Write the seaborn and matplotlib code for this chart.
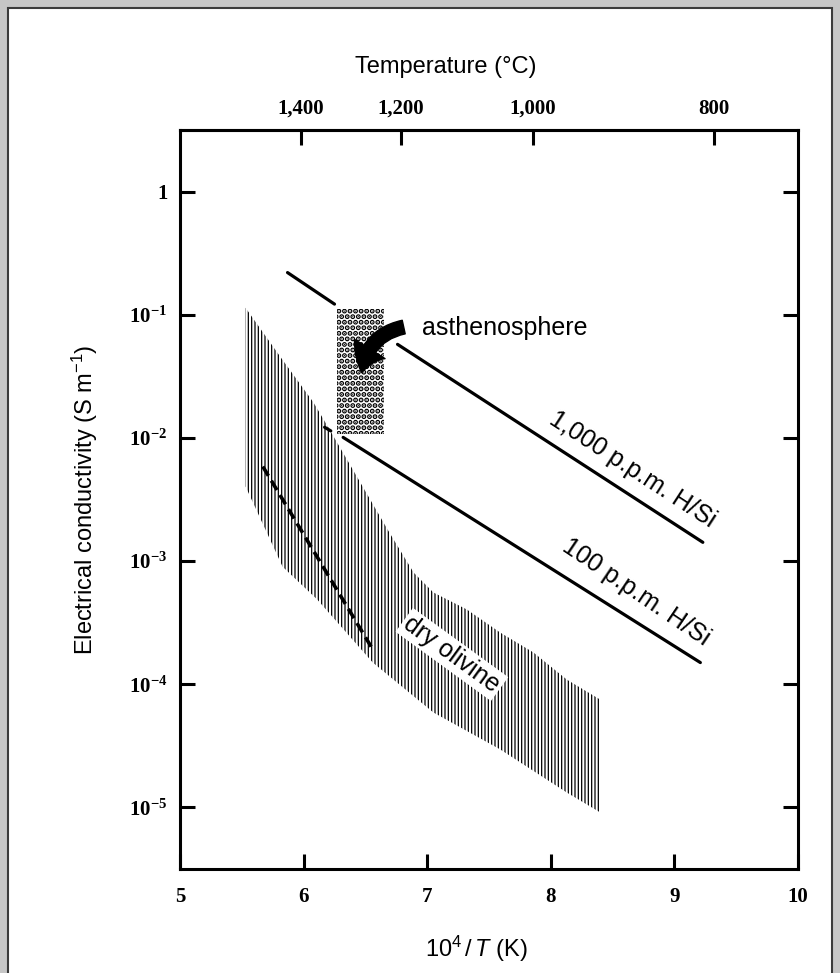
# Electrical conductivity of olivine vs inverse temperature
import numpy as np
import pandas as pd
import matplotlib
matplotlib.use('Agg')
import matplotlib.pyplot as plt
import seaborn as sns
from matplotlib.patches import Rectangle

# --- data (x = 10^4/T in K, y = conductivity S/m) ---
h1000_x = [5.87, 6.25, 6.76, 9.23]
h1000_y = [0.220, 0.122, 0.0575, 1.42e-3]
h1000_seg = [0, 0, 1, 1]

h100_x = [6.17, 6.22, 6.32, 9.21]
h100_y = [0.0122, 0.0114, 0.0101, 1.50e-4]
h100_seg = [0, 0, 1, 1]

dry_x = [5.67, 6.55]
dry_y = [5.86e-3, 1.99e-4]

band_up_x = [5.53, 5.81, 6.08, 6.21, 6.68, 6.89, 7.05, 7.32, 7.59, 7.86, 8.13, 8.40]
band_up_y = [0.114, 0.0458, 0.0194, 0.0117, 1.80e-3, 8.07e-4, 5.56e-4, 4.05e-4,
             2.63e-4, 1.81e-4, 1.09e-4, 7.5e-5]
band_lo_x = [5.53, 5.83, 6.11, 6.56, 7.05, 7.59, 8.13, 8.40]
band_lo_y = [4.04e-3, 9.0e-4, 4.88e-4, 1.50e-4, 5.9e-5, 2.96e-5, 1.32e-5, 9.1e-6]

asth_x = [6.27, 6.65]
asth_y = [0.0107, 0.111]

x_ticks = [5, 6, 7, 8, 9, 10]
y_ticks = [1, 1e-1, 1e-2, 1e-3, 1e-4, 1e-5]
y_tick_labels = ['1', r'$\mathbf{10^{-1}}$', r'$\mathbf{10^{-2}}$', r'$\mathbf{10^{-3}}$',
                 r'$\mathbf{10^{-4}}$', r'$\mathbf{10^{-5}}$']
temp_ticks = [1400, 1200, 1000, 800]
temp_labels = ['1,400', '1,200', '1,000', '800']

# --- style ---
sns.set_theme(style='ticks')
plt.rcParams['font.family'] = ['Liberation Sans', 'DejaVu Sans']
plt.rcParams['text.color'] = 'black'
plt.rcParams['axes.labelcolor'] = 'black'
plt.rcParams['mathtext.fontset'] = 'custom'
plt.rcParams['mathtext.rm'] = 'Liberation Sans'
plt.rcParams['mathtext.it'] = 'Liberation Sans:italic'
plt.rcParams['mathtext.bf'] = 'Liberation Serif:bold'
plt.rcParams['hatch.linewidth'] = 0.9
plt.rcParams['hatch.color'] = 'black'

fig = plt.figure(figsize=(8.4, 9.73), dpi=100, facecolor='#c6c6c6')
fig.add_artist(Rectangle((8 / 840, -0.02), 824 / 840, 965 / 973 + 0.02,
                         transform=fig.transFigure, facecolor='white',
                         edgecolor='#3a3a3a', linewidth=1.5, zorder=-1))
ax = fig.add_axes([180 / 840, 104 / 973, 618 / 840, 739 / 973])
ax.set_facecolor('white')

# dry olivine band (vertical hatching)
poly_x = band_up_x + band_lo_x[::-1]
poly_y = band_up_y + band_lo_y[::-1]
band = ax.fill(poly_x, poly_y, facecolor='white', edgecolor='black', linewidth=0,
               hatch='|||||', zorder=1)[0]

# asthenosphere box (dots)
box = ax.fill_between(asth_x, asth_y[0], asth_y[1], facecolor='white', edgecolor='black',
                      linewidth=0, hatch='...', zorder=1)
if hasattr(band, 'set_hatch_linewidth'):
    band.set_hatch_linewidth(0.9)
    box.set_hatch_linewidth(2.6)

# hydrous conductivity lines
d1000 = pd.DataFrame({'x': h1000_x, 'y': h1000_y, 'seg': h1000_seg})
d100 = pd.DataFrame({'x': h100_x, 'y': h100_y, 'seg': h100_seg})
sns.lineplot(data=d1000, x='x', y='y', units='seg', estimator=None, color='black',
             linewidth=2.3, ax=ax, zorder=3)
sns.lineplot(data=d100, x='x', y='y', units='seg', estimator=None, color='black',
             linewidth=2.3, ax=ax, zorder=3)
sns.lineplot(x=dry_x, y=dry_y, color='black', linewidth=2.6, linestyle=(0, (3, 1.6)),
             ax=ax, zorder=3)

ax.set_yscale('log')
ax.set_xlim(5, 10)
ax.set_ylim(10 ** -5.5, 10 ** 0.5)

# annotations
ax.text(7.63, 0.078, 'asthenosphere', fontsize=18, ha='center', va='center')
ax.annotate('', xy=(6.47, 10 ** -1.47), xytext=(6.81, 10 ** -1.10),
            arrowprops=dict(arrowstyle='simple,head_width=1.3,head_length=0.9,tail_width=0.5',
                            connectionstyle='arc3,rad=0.35', fc='black', ec='black',
                            mutation_scale=20, shrinkA=0, shrinkB=0), zorder=4)
ax.text(8.665, 10 ** -2.257, '1,000 p.p.m. H/Si', fontsize=18, rotation=-33,
        ha='center', va='center', rotation_mode='anchor')
ax.text(8.69, 10 ** -3.255, '100 p.p.m. H/Si', fontsize=18, rotation=-34,
        ha='center', va='center', rotation_mode='anchor')
ax.text(7.20, 10 ** -3.758, 'dry olivine', fontsize=18, rotation=-36,
        ha='center', va='center', rotation_mode='anchor', zorder=2,
        bbox=dict(facecolor='white', edgecolor='none', pad=2))

# axes, ticks
for s in ax.spines.values():
    s.set_linewidth(2.2)
    s.set_color('black')
ax.set_xticks(x_ticks)
ax.set_xticklabels([str(v) for v in x_ticks])
ax.set_yticks(y_ticks)
ax.set_yticklabels(y_tick_labels)
ax.minorticks_off()
ax.tick_params(axis='both', direction='in', length=11, width=2.2, colors='black')
ax.tick_params(axis='y', right=True, pad=9, labelsize=15)
ax.tick_params(axis='x', pad=13, labelsize=15)
for lab in ax.get_xticklabels() + ax.get_yticklabels():
    lab.set_fontfamily('Liberation Serif')
    lab.set_fontweight('bold')

ax.set_xlabel(r'$\mathrm{10^{4}}\,/\,\mathit{T}\ \mathrm{(K)}$', fontsize=17)
ax.xaxis.set_label_coords(0.48, -0.088)
ax.set_ylabel(r'Electrical conductivity (S m$^{-1}$)', fontsize=17)
ax.yaxis.set_label_coords(-0.13, 0.5)

secax = ax.secondary_xaxis('top', functions=(lambda x: 1e4 / x - 273.15,
                                             lambda t: 1e4 / (t + 273.15)))
secax.set_xticks(temp_ticks)
secax.set_xticklabels(temp_labels)
secax.minorticks_off()
secax.spines['top'].set_linewidth(2.2)
secax.tick_params(direction='in', length=11, width=2.2, pad=8, labelsize=15, colors='black')
for lab in secax.get_xticklabels():
    lab.set_fontfamily('Liberation Serif')
    lab.set_fontweight('bold')
ax.text(0.43, 1.085, 'Temperature (°C)', fontsize=17, ha='center', va='center',
        transform=ax.transAxes)

fig.savefig('out.png', dpi=100, facecolor=fig.get_facecolor())
